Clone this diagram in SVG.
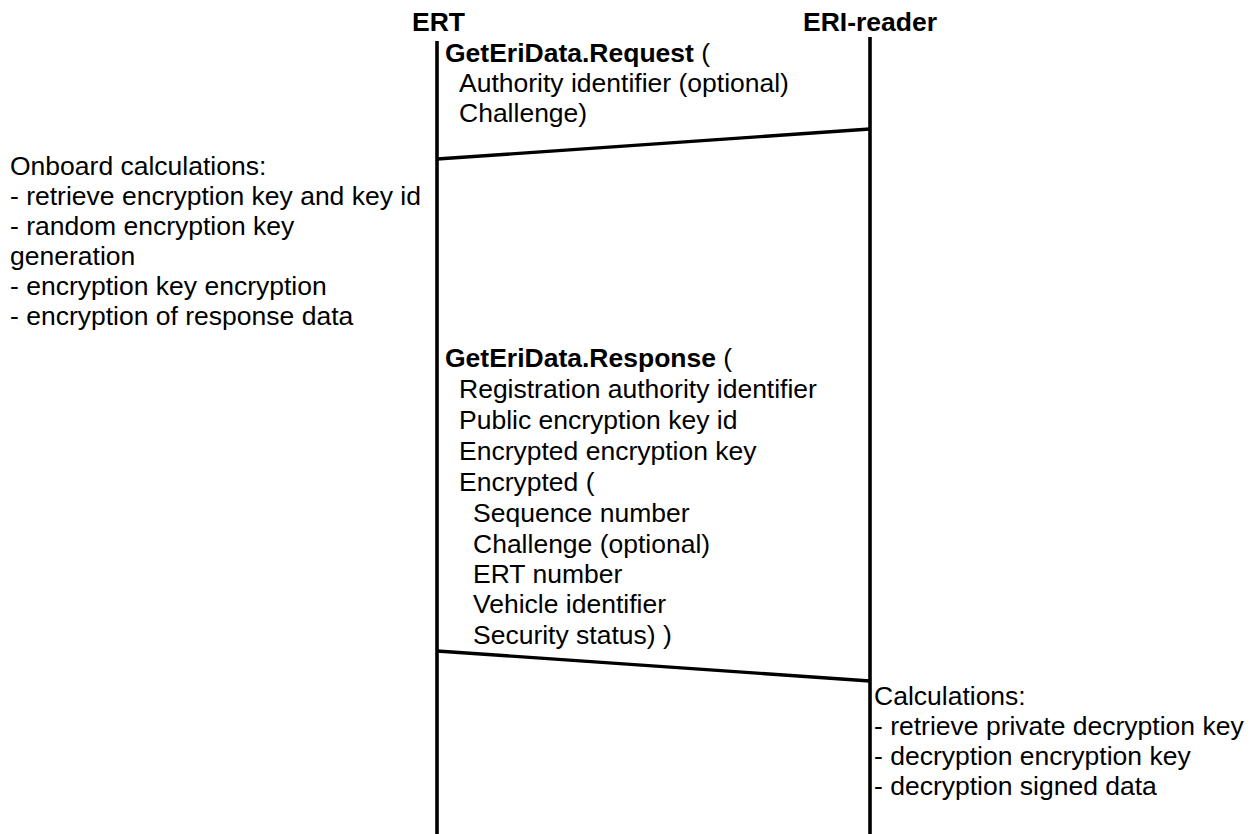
<svg xmlns="http://www.w3.org/2000/svg" width="1253" height="834" viewBox="0 0 1253 834">
<style>
text{font-family:"Liberation Sans",Arial,sans-serif;font-size:26.5px;fill:#000}
.b{font-weight:bold}
.life{stroke:#000;stroke-width:3.6;fill:none}
.msg{stroke:#000;stroke-width:3.4;fill:none}
</style>
<rect width="1253" height="834" fill="#fff"/>
<g id="ERT">
<text class="b" x="412" y="31">ERT</text>
<line class="life" x1="437" y1="41" x2="437" y2="834"/>
</g>
<g id="ERI-reader">
<text class="b" x="803" y="31">ERI-reader</text>
<line class="life" x1="870" y1="37" x2="870" y2="834"/>
</g>
<g id="onboard-calculations">
<text x="10" y="175">Onboard calculations:</text>
<text x="10" y="205">- retrieve encryption key and key id</text>
<text x="10" y="235">- random encryption key</text>
<text x="10" y="265">generation</text>
<text x="10" y="295">- encryption key encryption</text>
<text x="10" y="325">- encryption of response data</text>
</g>
<g id="reader-calculations">
<text x="874" y="705">Calculations:</text>
<text x="874" y="735">- retrieve private decryption key</text>
<text x="874" y="765">- decryption encryption key</text>
<text x="874" y="795">- decryption signed data</text>
</g>
<g id="connectors">
<line class="msg" x1="870" y1="129" x2="437" y2="159"/>
<line class="msg" x1="437" y1="651" x2="870" y2="681"/>
</g>
<g id="request-label">
<text x="445" y="62"><tspan class="b">GetEriData.Request</tspan> (</text>
<text x="459" y="92">Authority identifier (optional)</text>
<text x="459" y="122">Challenge)</text>
</g>
<g id="response-label">
<text x="445" y="367"><tspan class="b">GetEriData.Response</tspan> (</text>
<text x="459" y="398">Registration authority identifier</text>
<text x="459" y="429">Public encryption key id</text>
<text x="459" y="460">Encrypted encryption key</text>
<text x="459" y="491">Encrypted (</text>
<text x="473" y="522">Sequence number</text>
<text x="473" y="553">Challenge (optional)</text>
<text x="473" y="583">ERT number</text>
<text x="473" y="613">Vehicle identifier</text>
<text x="473" y="644">Security status) )</text>
</g>
</svg>
